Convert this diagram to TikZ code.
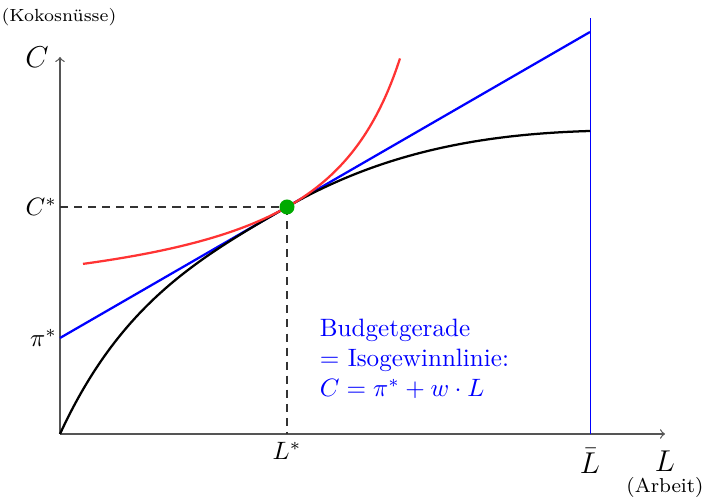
\documentclass[tikz,border=0pt]{standalone}
\usepackage{amsmath,amssymb}
\usepackage{tikz}
\usepackage{xcolor}
\usetikzlibrary{arrows.meta,positioning,calc}
\definecolor{axisgray}{HTML}{555555}
\definecolor{budgetblue}{HTML}{0000FF}
\definecolor{curvered}{HTML}{FF3333}
\definecolor{dotgreen}{HTML}{00AA00}
\tikzset{
  axis/.style={->,>=to,color=axisgray,line width=0.5pt},
  budget/.style={color=budgetblue,line width=0.9pt},
  prodcurve/.style={color=black,line width=0.9pt},
  indiff/.style={color=curvered,line width=0.9pt},
  guide/.style={dashed,dash pattern=on 3.2pt off 2.4pt,line width=0.45pt,color=black!80},
  ticklabel/.style={font=\normalsize,inner sep=1pt},
  unitlabel/.style={font=\scriptsize,inner sep=1pt}
}

\begin{document}
\begin{tikzpicture}[x=0.7cm,y=0.7cm]
  \useasboundingbox (-1.2,-1.26) rectangle (12.9,8.68);
  % axes
  \coordinate (O) at (0,0);
  \coordinate (xend) at (12.1,0);
  \coordinate (yend) at (0,7.54);
  \draw[axis] (O) -- (xend);
  \draw[axis] (O) -- (yend);
  \node[ticklabel,font=\large] (Clab) at (-0.46,7.54) {$C$};
  \node[unitlabel] (kokos) at (-0.02,8.33) {(Kokosn\"usse)};
  \node[ticklabel,font=\large] (Llab) at (12.1,-0.54) {$L$};
  \node[unitlabel,font=\footnotesize] (arbeit) at (12.1,-1.06) {(Arbeit)};
  % time endowment
  \coordinate (Lbar) at (10.6,0);
  \coordinate (Lbartop) at (10.6,8.32);
  \draw[color=budgetblue,line width=0.4pt] (Lbar) -- (Lbartop);
  \node[ticklabel,font=\large] (Lbarlab) at (10.6,-0.54) {$\bar L$};
  % optimum
  \coordinate (opt) at (4.54,4.54);
  \coordinate (Cstar) at (0,4.54);
  \coordinate (Lstar) at (4.54,0);
  \draw[guide] (Cstar) -- (opt);
  \draw[guide] (opt) -- (Lstar);
  \node[ticklabel,anchor=east] (Cstarlab) at (Cstar) {$C^{*}$};
  \node[ticklabel,anchor=north,yshift=-2pt] (Lstarlab) at (Lstar) {$L^{*}$};
  % budget line
  \coordinate (pistar) at (0,1.92);
  \coordinate (budgetend) at (10.6,8.04);
  \draw[budget] (pistar) -- (budgetend);
  \node[ticklabel,anchor=east] (pilab) at (pistar) {$\pi^{*}$};
  % production function
  \draw[prodcurve] (O) .. controls (1.2,2.6) and (2.74,3.5) .. (opt)
    .. controls (6.54,5.694) and (8.6,6.0) .. (10.6,6.06);
  % indifference curve
  \draw[indiff,domain=0.46:6.8,samples=80,smooth] plot (\x,{2.30+8.86/(8.5-\x)});
  \fill[dotgreen] (opt) circle (0.15);
  % label
  \node[color=budgetblue,align=left,anchor=west,font=\normalsize] (budgettext) at (5.02,1.50)
    {Budgetgerade\\ $=$ Isogewinnlinie:\\ $C=\pi^{*}+w\cdot L$};
\end{tikzpicture}
\end{document}
